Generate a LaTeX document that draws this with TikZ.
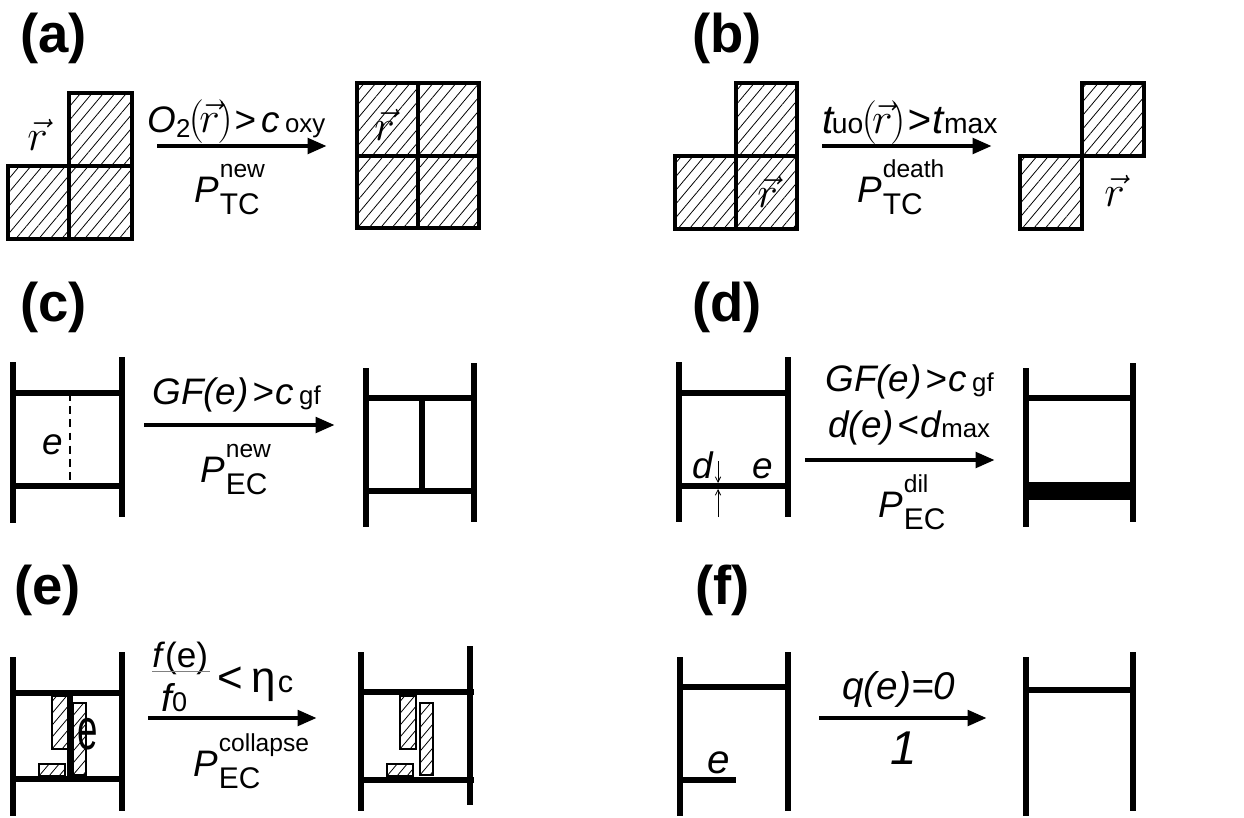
\documentclass[tikz,border=0pt]{standalone}
\usepackage{fontspec}
\usepackage{graphicx}
\setmainfont{Liberation Sans}
\usetikzlibrary{arrows.meta,patterns.meta}

\newcommand\lo[2][0pt]{\raisebox{#1}{\fontsize{\the\dimexpr0.7em\relax}{0pt}\selectfont\upshape #2}}
\newcommand\prob[2]{P\kern0.5pt\makebox[0pt][l]{\raisebox{14pt}{\fontsize{14}{14}\selectfont\upshape #2}}\raisebox{-7pt}{\fontsize{17}{17}\selectfont\upshape #1}}
\newcommand\posarg[2][25]{{\fontsize{#1}{#1}\selectfont$#2$}}
% hatched wall fragment: x1,y1,x2,y2
\newcommand\hatchbar[4]{%
  \begin{scope}
    \clip (#1,#2) rectangle (#3,#4);
    \foreach \k in {-70,-60,...,30}
      \draw[line width=0.45pt] (#1+\k,#4) -- ++(64,-76);
  \end{scope}
  \draw[line width=0.6pt] (#1,#2) rectangle (#3,#4);}

\tikzset{
  wall/.style={line width=3.2pt},
  cell/.style={draw,line width=1.9pt,pattern={Lines[angle=50,distance=5pt,line width=0.45pt]}},
  trans/.style={line width=2.8pt,-{Triangle[length=11pt,width=8.5pt]}},
  gauge/.style={line width=0.5pt,-{Straight Barb[length=3pt,width=3pt]}},
  lbl/.style={anchor=base west,inner sep=0pt,font=\fontsize{21}{21}\selectfont\itshape},
  tag/.style={anchor=base west,inner sep=0pt,font=\fontsize{31}{31}\selectfont\bfseries},
  vecr/.style={anchor=base west,inner sep=0pt,font=\fontsize{27}{27}\selectfont},
}

\begin{document}
\begin{tikzpicture}[x=0.02cm,y=-0.02cm]
\useasboundingbox (0,0) rectangle (1244,818);
\foreach \lab/\xx/\yy in {a/20/52,b/692/52,c/20/321,d/692/321,e/14/604,f/695/604}
  \node[tag] (tag-\lab) at (\xx,\yy) {(\lab)};
\foreach \p/\xa/\xb/\yy in {a/157/327/146,b/822/992/146,c/144/335/425,d/805/995/460,e/148/317/718,f/819/987/718} {
  \coordinate (\p-from) at (\xa,\yy);
  \coordinate (\p-to) at (\xb,\yy);
  \draw[trans] (\p-from) -- (\p-to);
}

% (a) new tumour cell
\draw[cell] (8,166) rectangle (69,239);
\draw[cell] (69,166) rectangle (132,239);
\draw[cell] (69,93) rectangle (132,166);
\draw[cell] (357,83) rectangle (418,156);
\draw[cell] (418,83) rectangle (479,156);
\draw[cell] (357,156) rectangle (418,228);
\draw[cell] (418,156) rectangle (479,228);
\node[vecr] (a-r1) at (27,150) {$\vec{r}$};
\node[vecr] (a-r2) at (374,140) {$\vec{r}$};
\node[lbl] (a-cond) at (147,132) {O\lo[-3pt]{2}\kern-1pt\posarg{(\mkern-2mu\vec{r}\mkern-1mu)}\kern1pt>\kern3pt c\kern3pt\lo{oxy}};
\node[lbl] (a-prob) at (194,202) {\prob{TC}{new}};

% (b) death
\draw[cell] (675,156) rectangle (736,229);
\draw[cell] (736,156) rectangle (797,229);
\draw[cell] (736,83) rectangle (797,156);
\draw[cell] (1020,156) rectangle (1082,229);
\draw[cell] (1082,83) rectangle (1144,156);
\node[vecr] (b-r1) at (757,207) {$\vec{r}$};
\node[vecr] (b-r2) at (1104,206) {$\vec{r}$};
\node[lbl,font=\fontsize{23}{23}\selectfont\itshape] (b-cond) at (822,133) {t\kern-1pt\lo{uo}\kern-1pt\posarg[23]{(\mkern-2mu\vec{r}\mkern-1mu)}\kern1pt>\kern1pt t\lo{max}};
\node[lbl] (b-prob) at (857,202) {\prob{TC}{death}};

% (c) sprouting
\draw[wall] (13,362) -- (13,523);
\draw[wall] (122,357) -- (122,517);
\draw[wall] (13,393) -- (122,393);
\draw[wall] (13,486) -- (122,486);
\draw[line width=1.6pt,dash pattern=on 4.5pt off 3pt] (70,393) -- (70,486);
\node[lbl] (c-e) at (42,454) {e};
\draw[wall] (366,368) -- (366,527);
\draw[wall] (474,363) -- (474,522);
\draw[wall] (366,398) -- (474,398);
\draw[wall] (366,491) -- (474,491);
\draw[wall] (422,398) -- (422,491);
\node[lbl] (c-cond) at (152,404) {GF(e)\kern2pt>\kern1pt c\kern3pt\lo{gf}};
\node[lbl] (c-prob) at (200,482) {\prob{EC}{new}};

% (d) dilation
\draw[wall] (679,362) -- (679,522);
\draw[wall] (788,357) -- (788,517);
\draw[wall] (679,393) -- (788,393);
\draw[wall] (679,486) -- (788,486);
\coordinate (d-top) at (718,461);
\coordinate (d-hi) at (718,483);
\coordinate (d-bot) at (718,517);
\coordinate (d-lo) at (718,489);
\draw[gauge] (d-top) -- (d-hi);
\draw[gauge] (d-bot) -- (d-lo);
\node[lbl] (d-d) at (692,478) {d};
\node[lbl] (d-e) at (752,478) {e};
\draw[wall] (1026,368) -- (1026,527);
\draw[wall] (1133,363) -- (1133,522);
\draw[wall] (1026,398) -- (1133,398);
\fill (1026,482) rectangle (1133,500);
\node[lbl] (d-cond1) at (825,391) {GF(e)\kern2pt>\kern1pt c\kern3pt\lo{gf}};
\node[lbl] (d-cond2) at (828,437) {d(e)\kern2pt<\kern1pt d\lo{max}};
\node[lbl] (d-prob) at (878,517) {\prob{EC}{dil}};

% (e) collapse
\hatchbar{52}{696}{68}{749}
\hatchbar{73}{703}{86}{775}
\hatchbar{39}{764}{65}{776}
\draw[wall] (13,657) -- (13,816);
\draw[wall] (122,652) -- (122,811);
\draw[wall] (13,693) -- (122,693);
\draw[wall] (13,779) -- (122,779);
\draw[wall] (70,693) -- (70,779);
\node[lbl,font=\fontsize{22}{22}\selectfont] (e-e) at (77,749) {\scalebox{0.95}[1.5]{e}};
\hatchbar{400}{696}{416}{749}
\hatchbar{420}{703}{433}{775}
\hatchbar{387}{764}{413}{776}
\draw[wall] (361,652) -- (361,811);
\draw[wall] (470,646) -- (470,805);
\draw[wall] (361,692) -- (474,692);
\draw[wall] (361,780) -- (474,780);
\node[lbl,font=\fontsize{20}{20}\selectfont] (e-num) at (152,667) {\textit{f}(e)};
\draw[line width=0.6pt,gray] ([yshift=2pt]e-num.south west) -- ([yshift=2pt,xshift=1pt]e-num.south east);
\node[lbl,font=\fontsize{22}{22}\selectfont\itshape] (e-den) at (161,711) {f\lo{0}};
\node[lbl,font=\fontsize{25}{25}\selectfont] (e-cond) at (217,692) {<\kern5pt η\kern1pt\lo{c}};
\node[lbl] (e-prob) at (193,776) {\prob{EC}{collapse}};

% (f) pruning
\draw[wall] (680,657) -- (680,816);
\draw[wall] (788,652) -- (788,811);
\draw[wall] (680,687) -- (788,687);
\draw[wall] (680,780) -- (736,780);
\node[lbl,font=\fontsize{23}{23}\selectfont\itshape] (f-e) at (707,773) {e};
\draw[wall] (1026,657) -- (1026,816);
\draw[wall] (1133,652) -- (1133,811);
\draw[wall] (1026,690) -- (1133,690);
\node[lbl,font=\fontsize{22}{22}\selectfont\itshape] (f-cond) at (842,699) {q(e)=0};
\node[lbl,font=\fontsize{27}{27}\selectfont\itshape] (f-one) at (890,764) {1};
\end{tikzpicture}
\end{document}
